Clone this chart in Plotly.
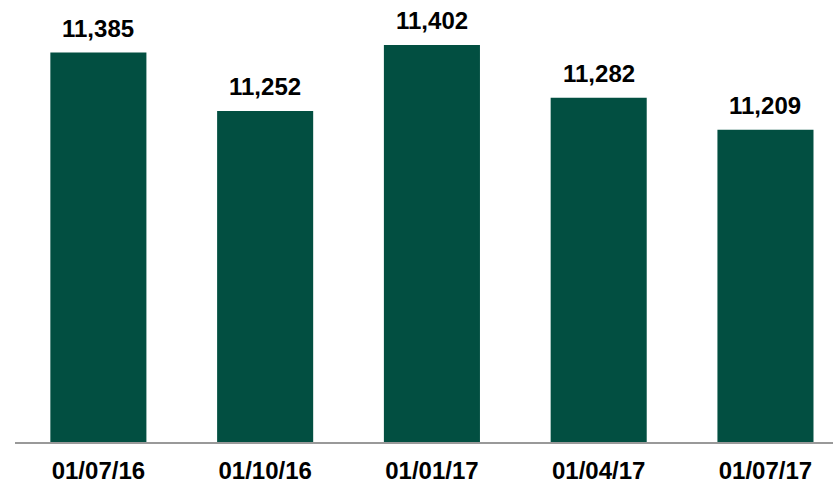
import plotly.graph_objects as go

dates = ["01/07/16", "01/10/16", "01/01/17", "01/04/17", "01/07/17"]
values = [11385, 11252, 11402, 11282, 11209]

bar_color = "#024f41"
font_family = "Arial, 'Liberation Sans', sans-serif"

fig = go.Figure()

fig.add_trace(go.Bar(
    x=dates,
    y=values,
    marker=dict(color=bar_color, line=dict(width=0)),
    width=0.576,
    hoverinfo="x+y",
))

# value labels above each bar
for d, v in zip(dates, values):
    fig.add_annotation(
        x=d, y=v,
        text=f"<b>{v:,}</b>",
        showarrow=False,
        yanchor="middle",
        yshift=24,
        font=dict(family=font_family, size=24, color="#000000"),
    )

fig.update_layout(
    width=833,
    height=483,
    margin=dict(l=15, r=0, t=0, b=41, autoexpand=False),
    paper_bgcolor="white",
    plot_bgcolor="white",
    showlegend=False,
)

fig.update_xaxes(
    type="category",
    range=[-0.5, 4.405],
    automargin=False,
    showline=True,
    linecolor="#999999",
    linewidth=2,
    showgrid=False,
    zeroline=False,
    ticks="outside",
    ticklen=6,
    tickcolor="rgba(0,0,0,0)",
    tickfont=dict(family=font_family, size=24, color="#000000"),
    tickprefix="<b>",
    ticksuffix="</b>",
)

fig.update_yaxes(
    range=[10500, 11504],
    visible=False,
    automargin=False,
    showgrid=False,
    zeroline=False,
)

# drop the default page margin so the figure sits at the window's corner
fig.write_html(
    "out.html",
    config={"displayModeBar": False},
    post_script="document.body.style.margin='0';",
)
